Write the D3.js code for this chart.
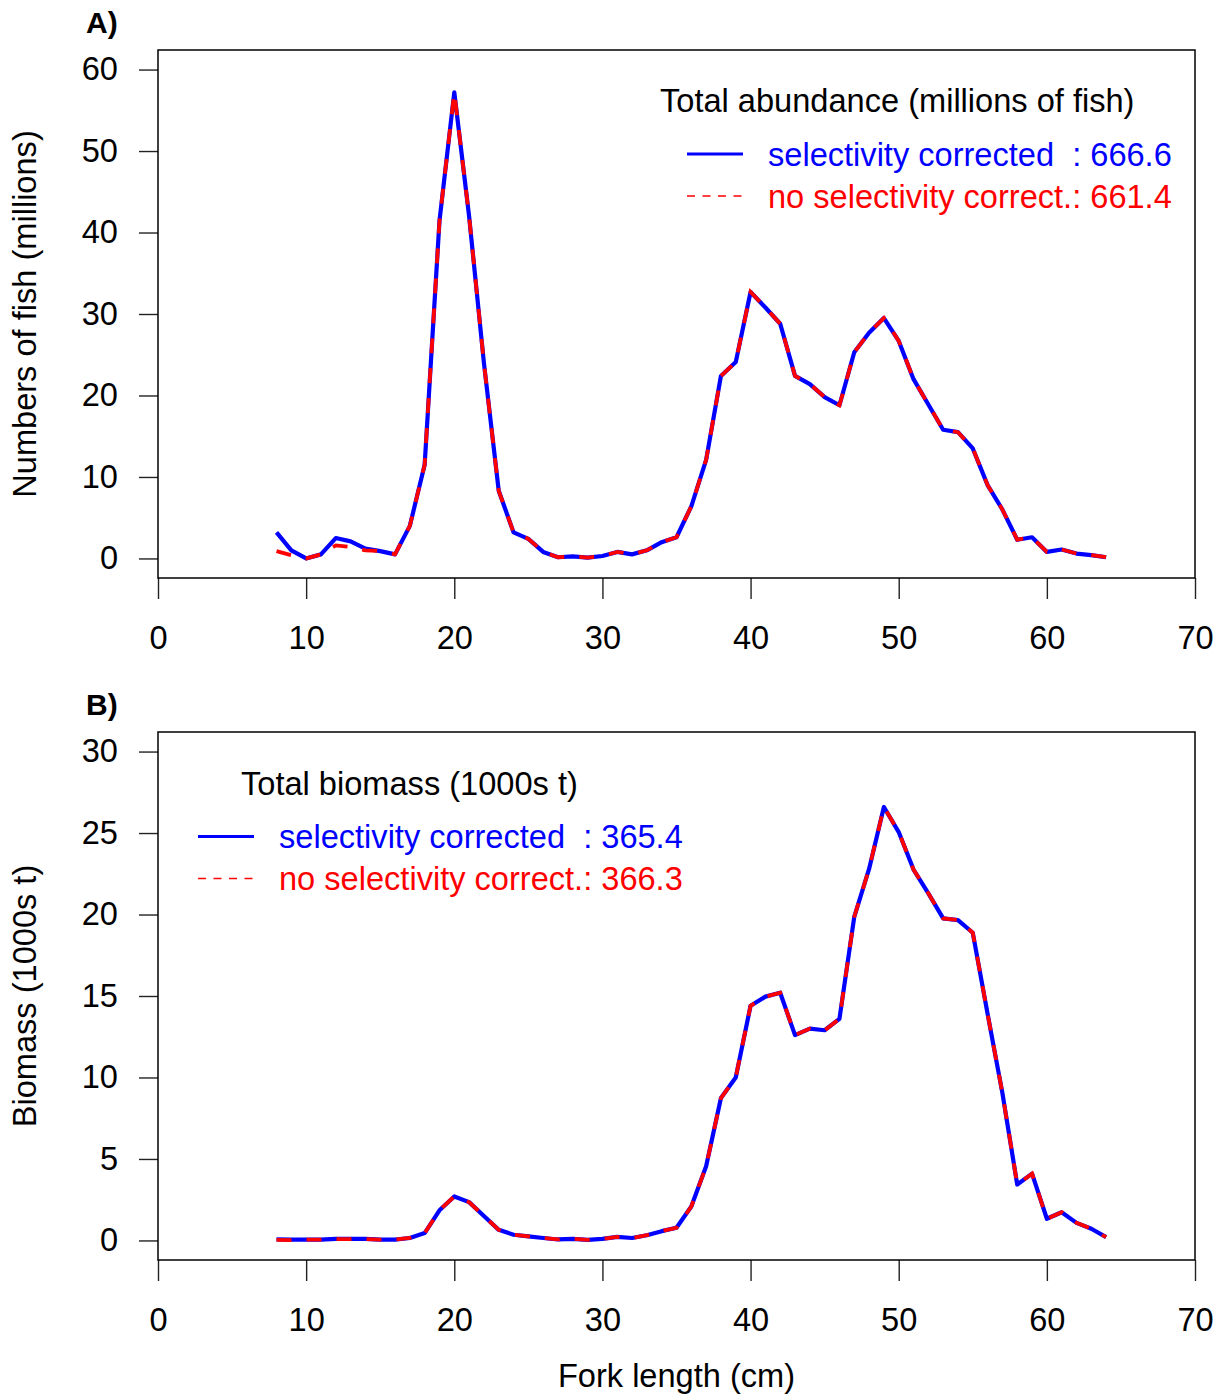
<!DOCTYPE html>
<html>
<head>
<meta charset="utf-8">
<title>Length distributions</title>
<style>
  body { margin: 0; background: #fff; }
  svg text { font-family: "Liberation Sans", Arial, sans-serif; }
  .box { fill: none; stroke: #000; stroke-width: 1.5; }
  .tick line { stroke: #222; stroke-width: 1.4; }
  .tick text { font-size: 32px; fill: #000; }
</style>
</head>
<body>
<script src="https://cdn.jsdelivr.net/npm/d3@7"></script>
<script>
// fork length classes (cm)
var lengths = [8, 9, 10, 11, 12, 13, 14, 15, 16, 17, 18, 19, 20, 21, 22, 23, 24, 25, 26, 27,
  28, 29, 30, 31, 32, 33, 34, 35, 36, 37, 38, 39, 40, 41, 42, 43, 44, 45, 46, 47,
  48, 49, 50, 51, 52, 53, 54, 55, 56, 57, 58, 59, 60, 61, 62, 63, 64];

// A) numbers of fish (millions)
var abundSel = [3.2, 1.0, 0.0, 0.5, 2.5, 2.1, 1.2, 0.9, 0.5, 4.0, 11.5, 41.4, 57.2, 42.0, 24.0, 8.3, 3.2, 2.4, 0.8, 0.15,
  0.25, 0.1, 0.3, 0.8, 0.5, 1.0, 2.0, 2.6, 6.4, 12.1, 22.4, 24.1, 32.7, 30.8, 28.8, 22.4, 21.4, 19.8, 18.8, 25.3,
  27.7, 29.5, 26.7, 22.0, 18.9, 15.8, 15.5, 13.5, 9.0, 6.0, 2.3, 2.6, 0.8, 1.1, 0.6, 0.4, 0.15];
var abundNoSel = [0.9, 0.4, 0.0, 0.5, 1.6, 1.4, 1.0, 0.9, 0.5, 4.0, 11.5, 41.4, 57.2, 42.0, 24.0, 8.3, 3.2, 2.4, 0.8, 0.15,
  0.25, 0.1, 0.3, 0.8, 0.5, 1.0, 2.0, 2.6, 6.4, 12.1, 22.4, 24.1, 32.7, 30.8, 28.8, 22.4, 21.4, 19.8, 18.8, 25.3,
  27.7, 29.5, 26.7, 22.0, 18.9, 15.8, 15.5, 13.5, 9.0, 6.0, 2.3, 2.6, 0.8, 1.1, 0.6, 0.4, 0.15];

// B) biomass (1000s t)
var biomSel = [0.06, 0.05, 0.05, 0.05, 0.1, 0.1, 0.1, 0.05, 0.05, 0.15, 0.45, 1.85, 2.7, 2.35, 1.5, 0.65, 0.35, 0.25, 0.15, 0.06,
  0.1, 0.04, 0.1, 0.22, 0.15, 0.32, 0.57, 0.78, 2.08, 4.55, 8.74, 10.0, 14.4, 14.96, 15.2, 12.6, 13.0, 12.9, 13.6, 19.86,
  22.8, 26.6, 25.06, 22.76, 21.3, 19.76, 19.66, 18.88, 13.9, 9.04, 3.43, 4.1, 1.33, 1.73, 1.08, 0.72, 0.2];
var biomNoSel = [0.03, 0.02, 0.05, 0.05, 0.08, 0.08, 0.08, 0.05, 0.05, 0.15, 0.45, 1.85, 2.7, 2.35, 1.5, 0.65, 0.35, 0.25, 0.15, 0.06,
  0.1, 0.04, 0.1, 0.22, 0.15, 0.32, 0.57, 0.78, 2.08, 4.55, 8.74, 10.0, 14.4, 14.96, 15.2, 12.6, 13.0, 12.9, 13.6, 19.86,
  22.8, 26.6, 25.06, 22.76, 21.3, 19.76, 19.66, 18.88, 13.9, 9.04, 3.43, 4.1, 1.33, 1.73, 1.08, 0.72, 0.2];

var xTicks = [0, 10, 20, 30, 40, 50, 60, 70];
var yTicksA = [0, 10, 20, 30, 40, 50, 60];
var yTicksB = [0, 5, 10, 15, 20, 25, 30];

var width = 1225, height = 1396;
var left = 158, right = 1195;
var fs = 32.6; // R text size

var svg = d3.select("body").append("svg")
  .attr("width", width)
  .attr("height", height);

var x = d3.scaleLinear().domain([0, 70]).range([left, right]);

// one panel, R style: ylim padded 4% each side
function panel(opt) {
  var pad = (opt.ymax - 0) * 0.04;
  var y = d3.scaleLinear().domain([-pad, opt.ymax + pad]).range([opt.bottom, opt.top]);
  var g = svg.append("g");

  // x axis
  g.append("g")
    .attr("transform", "translate(0," + opt.bottom + ")")
    .call(d3.axisBottom(x).tickValues(xTicks).tickSize(21).tickPadding(27).tickFormat(d3.format("d")))
    .call(function(a) { a.select(".domain").remove(); });

  // y axis
  g.append("g")
    .attr("transform", "translate(" + left + ",0)")
    .call(d3.axisLeft(y).tickValues(opt.yTicks).tickSize(19).tickPadding(21).tickFormat(d3.format("d")))
    .call(function(a) { a.select(".domain").remove(); });

  g.selectAll(".tick text").attr("font-family", null).style("font-size", fs + "px");

  var line = d3.line()
    .x(function(d, i) { return x(lengths[i]); })
    .y(function(d) { return y(d); });

  g.append("path")
    .datum(opt.sel)
    .attr("d", line)
    .attr("fill", "none")
    .attr("stroke", "#0000ff")
    .attr("stroke-width", 4.2)
    .attr("stroke-linejoin", "round");

  g.append("path")
    .datum(opt.noSel)
    .attr("d", line)
    .attr("fill", "none")
    .attr("stroke", "#ff0000")
    .attr("stroke-width", 3.8)
    .attr("stroke-dasharray", "15,15");

  g.append("rect")
    .attr("class", "box")
    .attr("x", left).attr("y", opt.top)
    .attr("width", right - left).attr("height", opt.bottom - opt.top);

  // panel letter
  g.append("text")
    .attr("x", 86).attr("y", opt.top - 17)
    .attr("font-size", 30).attr("font-weight", "bold")
    .text(opt.letter);

  // y label
  g.append("text")
    .attr("transform", "translate(36," + (opt.top + opt.bottom) / 2 + ") rotate(-90)")
    .attr("text-anchor", "middle")
    .attr("font-size", fs)
    .text(opt.ylab);

  // legend: title, then two keyed rows
  var lg = g.append("g");
  lg.append("text").attr("x", opt.titleX).attr("y", opt.legY).attr("font-size", fs).text(opt.legTitle);
  lg.append("line").attr("x1", opt.keyX).attr("x2", opt.keyX + 56)
    .attr("y1", opt.legY + 42).attr("y2", opt.legY + 42)
    .attr("stroke", "#0000ff").attr("stroke-width", 3);
  lg.append("line").attr("x1", opt.keyX).attr("x2", opt.keyX + 56)
    .attr("y1", opt.legY + 84).attr("y2", opt.legY + 84)
    .attr("stroke", "#ff0000").attr("stroke-width", 1.6).attr("stroke-dasharray", "8,7.5");
  lg.append("text").attr("x", opt.keyX + 81).attr("y", opt.legY + 53.5).attr("font-size", fs)
    .attr("fill", "#0000ff").style("white-space", "pre")
    .text("selectivity corrected  : " + opt.totSel);
  lg.append("text").attr("x", opt.keyX + 81).attr("y", opt.legY + 95.5).attr("font-size", fs)
    .attr("fill", "#ff0000").style("white-space", "pre")
    .text("no selectivity correct.: " + opt.totNoSel);
}

panel({
  top: 50, bottom: 578, ymax: 60, yTicks: yTicksA,
  sel: abundSel, noSel: abundNoSel, letter: "A)",
  ylab: "Numbers of fish (millions)",
  titleX: 660, keyX: 687, legY: 112, legTitle: "Total abundance (millions of fish)",
  totSel: "666.6", totNoSel: "661.4"
});

panel({
  top: 732, bottom: 1260, ymax: 30, yTicks: yTicksB,
  sel: biomSel, noSel: biomNoSel, letter: "B)",
  ylab: "Biomass (1000s t)",
  titleX: 241, keyX: 198, legY: 794.5, legTitle: "Total biomass (1000s t)",
  totSel: "365.4", totNoSel: "366.3"
});

svg.append("text")
  .attr("x", (left + right) / 2).attr("y", 1387)
  .attr("text-anchor", "middle")
  .attr("font-size", fs)
  .text("Fork length (cm)");
</script>
</body>
</html>
